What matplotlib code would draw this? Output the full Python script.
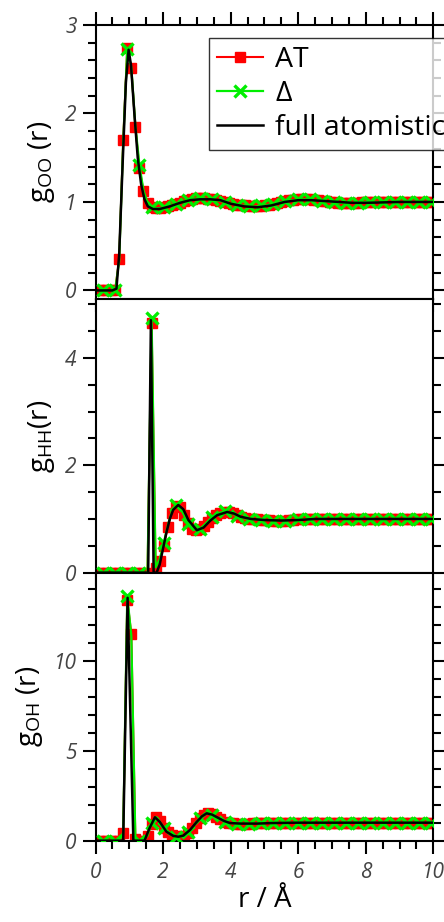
import numpy as np
import matplotlib
matplotlib.use("Agg")
import matplotlib.pyplot as plt
from matplotlib.ticker import MultipleLocator

plt.rcParams['font.family'] = ['Open Sans', 'DejaVu Sans']
plt.rcParams['mathtext.fontset'] = 'custom'
plt.rcParams['mathtext.rm'] = 'Open Sans'
plt.rcParams['mathtext.it'] = 'Open Sans:italic'

# ---------------- data ----------------
r_grid = np.round(0.10 + 0.12 * np.arange(83), 2)

oo_at = [0.00, 0.00, 0.00, 0.00, 0.00, 0.35, 1.70, 2.74, 2.51, 1.85,
         1.38, 1.12, 0.99, 0.94, 0.93, 0.93, 0.94, 0.95, 0.97, 0.98,
         0.99, 1.01, 1.02, 1.03, 1.04, 1.04, 1.04, 1.03, 1.03, 1.02,
         1.01, 1.00, 0.99, 0.98, 0.97, 0.96, 0.96, 0.95, 0.95, 0.95,
         0.95, 0.96, 0.97, 0.98, 0.99, 1.00, 1.01, 1.02, 1.02, 1.03,
         1.03, 1.03, 1.03, 1.02, 1.02, 1.01, 1.01, 1.00, 1.00, 0.99,
         0.99, 0.99, 0.99, 0.99, 0.99, 1.00, 1.00, 1.00, 1.00, 1.00,
         1.00, 1.00, 1.00, 1.00, 1.00, 1.00, 1.00, 1.00, 1.00, 1.00,
         1.00, 1.00, 1.00]
oo_delta = [0.00, 0.00, 0.00, 0.00, 0.00, 0.33, 1.68, 2.73, 2.52, 1.86,
            1.42, 1.13, 0.99, 0.94, 0.93, 0.93, 0.94, 0.96, 0.97, 0.98,
            0.99, 1.01, 1.02, 1.03, 1.04, 1.04, 1.04, 1.03, 1.03, 1.02,
            1.01, 1.00, 0.99, 0.98, 0.97, 0.96, 0.96, 0.95, 0.95, 0.95,
            0.96, 0.96, 0.97, 0.98, 0.99, 1.00, 1.01, 1.02, 1.02, 1.03,
            1.03, 1.03, 1.03, 1.02, 1.02, 1.01, 1.01, 1.00, 1.00, 0.99,
            0.99, 0.99, 0.99, 0.99, 0.99, 1.00, 1.00, 1.00, 1.00, 1.00,
            1.00, 1.00, 1.00, 1.00, 1.00, 1.00, 1.00, 1.00, 1.00, 1.00,
            1.00, 1.00, 1.00]
r_fa_oo = [0.0, 0.5, 0.62, 0.7, 0.8, 0.9, 0.98, 1.05, 1.15, 1.25, 1.35, 1.45,
           1.55, 1.7, 1.9, 2.2, 2.5, 2.8, 3.1, 3.4, 3.7, 4.0, 4.4, 4.8, 5.2,
           5.6, 6.0, 6.4, 6.8, 7.2, 7.6, 8.0, 9.0, 10.0]
oo_fa = [0.0, 0.0, 0.02, 0.40, 1.40, 2.35, 2.72, 2.55, 2.00, 1.50, 1.20, 1.03,
         0.95, 0.92, 0.92, 0.95, 0.99, 1.02, 1.03, 1.03, 1.02, 0.98, 0.95, 0.94,
         0.96, 1.00, 1.02, 1.02, 1.01, 1.00, 0.99, 0.99, 1.00, 1.00]

hh_at = [0.00, 0.00, 0.00, 0.00, 0.00, 0.00, 0.00, 0.00, 0.00, 0.00,
         0.00, 0.00, 0.00, 4.65, 0.08, 0.22, 0.50, 0.85, 1.12, 1.25,
         1.23, 1.08, 0.92, 0.82, 0.79, 0.81, 0.87, 0.95, 1.02, 1.07,
         1.11, 1.13, 1.13, 1.11, 1.07, 1.03, 1.01, 1.00, 0.99, 0.99,
         0.98, 0.98, 0.98, 0.97, 0.97, 0.97, 0.97, 0.98, 0.98, 0.99,
         0.99, 1.00, 1.00, 1.00, 1.00, 1.00, 1.00, 1.00, 1.00, 1.00,
         1.00, 1.00, 1.00, 1.00, 1.00, 1.00, 1.00, 1.00, 1.00, 1.00,
         1.00, 1.00, 1.00, 1.00, 1.00, 1.00, 1.00, 1.00, 1.00, 1.00,
         1.00, 1.00, 1.00]
hh_delta = [0.00, 0.00, 0.00, 0.00, 0.00, 0.00, 0.00, 0.00, 0.00, 0.00,
            0.00, 0.00, 0.00, 4.75, 0.10, 0.25, 0.55, 0.88, 1.14, 1.26,
            1.22, 1.07, 0.91, 0.81, 0.79, 0.82, 0.88, 0.96, 1.03, 1.08,
            1.12, 1.14, 1.13, 1.10, 1.06, 1.03, 1.01, 1.00, 0.99, 0.99,
            0.98, 0.98, 0.98, 0.97, 0.97, 0.97, 0.97, 0.98, 0.98, 0.99,
            0.99, 1.00, 1.00, 1.00, 1.00, 1.00, 1.00, 1.00, 1.00, 1.00,
            1.00, 1.00, 1.00, 1.00, 1.00, 1.00, 1.00, 1.00, 1.00, 1.00,
            1.00, 1.00, 1.00, 1.00, 1.00, 1.00, 1.00, 1.00, 1.00, 1.00,
            1.00, 1.00, 1.00]
r_fa_hh = [0.0, 1.5, 1.56, 1.64, 1.72, 1.81, 1.9, 2.0, 2.1, 2.2, 2.3, 2.45,
           2.6, 2.75, 3.0, 3.2, 3.4, 3.6, 3.9, 4.1, 4.3, 4.6, 5.0, 5.5, 6.0,
           6.5, 7.0, 8.0, 10.0]
hh_fa = [0.0, 0.0, 0.0, 4.70, 0.0, 0.0, 0.15, 0.45, 0.75, 1.00, 1.17, 1.26,
         1.18, 0.98, 0.79, 0.84, 0.97, 1.07, 1.13, 1.10, 1.04, 1.00, 0.98,
         0.97, 0.98, 1.00, 1.00, 1.00, 1.00]

oh_at = [0.00, 0.00, 0.00, 0.00, 0.00, 0.00, 0.40, 13.40, 11.50, 0.10,
         0.00, 0.00, 0.25, 0.95, 1.30, 1.08, 0.72, 0.46, 0.31, 0.24,
         0.22, 0.28, 0.44, 0.68, 0.96, 1.24, 1.44, 1.52, 1.46, 1.33,
         1.18, 1.06, 0.99, 0.96, 0.95, 0.95, 0.95, 0.95, 0.96, 0.96,
         0.97, 0.98, 0.99, 1.00, 1.00, 1.00, 1.00, 1.00, 1.00, 1.00,
         1.00, 1.00, 1.00, 1.00, 1.00, 1.00, 1.00, 1.00, 1.00, 1.00,
         1.00, 1.00, 1.00, 1.00, 1.00, 1.00, 1.00, 1.00, 1.00, 1.00,
         1.00, 1.00, 1.00, 1.00, 1.00, 1.00, 1.00, 1.00, 1.00, 1.00,
         1.00, 1.00, 1.00]
oh_delta = [0.00, 0.00, 0.00, 0.00, 0.00, 0.00, 0.45, 13.60, 11.40, 0.12,
            0.00, 0.00, 0.28, 0.98, 1.32, 1.06, 0.70, 0.45, 0.30, 0.23,
            0.22, 0.29, 0.46, 0.70, 0.98, 1.26, 1.45, 1.52, 1.45, 1.31,
            1.17, 1.05, 0.98, 0.96, 0.95, 0.95, 0.95, 0.95, 0.96, 0.96,
            0.97, 0.98, 0.99, 1.00, 1.00, 1.00, 1.00, 1.00, 1.00, 1.00,
            1.00, 1.00, 1.00, 1.00, 1.00, 1.00, 1.00, 1.00, 1.00, 1.00,
            1.00, 1.00, 1.00, 1.00, 1.00, 1.00, 1.00, 1.00, 1.00, 1.00,
            1.00, 1.00, 1.00, 1.00, 1.00, 1.00, 1.00, 1.00, 1.00, 1.00,
            1.00, 1.00, 1.00]
r_fa_oh = [0.0, 0.82, 0.95, 1.12, 1.45, 1.6, 1.76, 1.9, 2.1, 2.3, 2.45, 2.6,
           2.8, 3.0, 3.15, 3.29, 3.45, 3.6, 3.8, 3.98, 4.3, 4.8, 5.2, 6.0,
           7.0, 8.0, 10.0]
oh_fa = [0.0, 0.0, 13.5, 0.0, 0.0, 0.70, 1.30, 1.05, 0.50, 0.27, 0.22, 0.28,
         0.60, 1.05, 1.35, 1.52, 1.45, 1.30, 1.10, 0.98, 0.95, 0.95, 0.98,
         1.00, 1.00, 1.00, 1.00]

labels = ['AT', 'Δ', 'full atomistic']
ylabels = [r'g$_\mathregular{OO}$ (r)', r'g$_\mathregular{HH}$(r)', r'g$_\mathregular{OH}$ (r)']
xlabel = 'r / Å'

# ---------------- figure ----------------
fig = plt.figure(figsize=(4.44, 9.22), dpi=100)
L, W = 0.2151, 0.7608
rects = [(L, 0.6754, W, 0.2975), (L, 0.3789, W, 0.2965), (L, 0.0882, W, 0.2907)]
panels = [
    (r_fa_oo, oo_fa, oo_at, oo_delta, (-0.1, 3.0), 1, 0.2),
    (r_fa_hh, hh_fa, hh_at, hh_delta, (0, 5.09), 2, 0.5),
    (r_fa_oh, oh_fa, oh_at, oh_delta, (0, 14.9), 5, 1),
]
tick_color = '#444444'
for i, (rect, (rf, yf, ya, yd, ylim, maj, mnr)) in enumerate(zip(rects, panels)):
    ax = fig.add_axes(rect)
    ax.plot(r_grid, ya, color='#ff0000', lw=1.5, marker='s', ms=6.5,
            mec='#ff0000', mfc='#ff0000', label=labels[0], zorder=2)
    ax.plot(r_grid, yd, color='#00ee00', lw=1.6, marker='x', ms=8.5, mew=2.4,
            markevery=(1, 3), label=labels[1], zorder=3)
    ax.plot(rf, yf, color='black', lw=1.8, label=labels[2], zorder=4)
    ax.set_xlim(0, 10)
    ax.set_ylim(*ylim)
    ax.xaxis.set_major_locator(MultipleLocator(2))
    ax.xaxis.set_minor_locator(MultipleLocator(0.5))
    ax.yaxis.set_major_locator(MultipleLocator(maj))
    ax.yaxis.set_minor_locator(MultipleLocator(mnr))
    for s in ax.spines.values():
        s.set_linewidth(1.5)
    ax.tick_params(which='both', direction='out', width=1.5, right=True,
                   top=(i == 0), labelcolor=tick_color, labelsize=15)
    ax.tick_params(which='major', length=9.5, pad=4)
    ax.tick_params(which='minor', length=5.5)
    for t in ax.get_yticklabels() + ax.get_xticklabels():
        t.set_fontstyle('italic')
    if i < 2:
        ax.tick_params(labelbottom=False)
    else:
        ax.tick_params(axis='x', which='major', pad=6)
        ax.set_xlabel(xlabel, fontsize=20, labelpad=2)
    ax.set_ylabel(ylabels[i], fontsize=20, labelpad=6)
    if i == 0:
        leg = ax.legend(loc='upper left', bbox_to_anchor=(0.336, 0.953),
                        fontsize=20.5, frameon=True, fancybox=False,
                        edgecolor='black', handlelength=1.6, handletextpad=0.45,
                        labelspacing=0.22, borderpad=0.28, borderaxespad=0)
        leg.get_frame().set_linewidth(1.0)

fig.savefig('out.png', dpi=100)
